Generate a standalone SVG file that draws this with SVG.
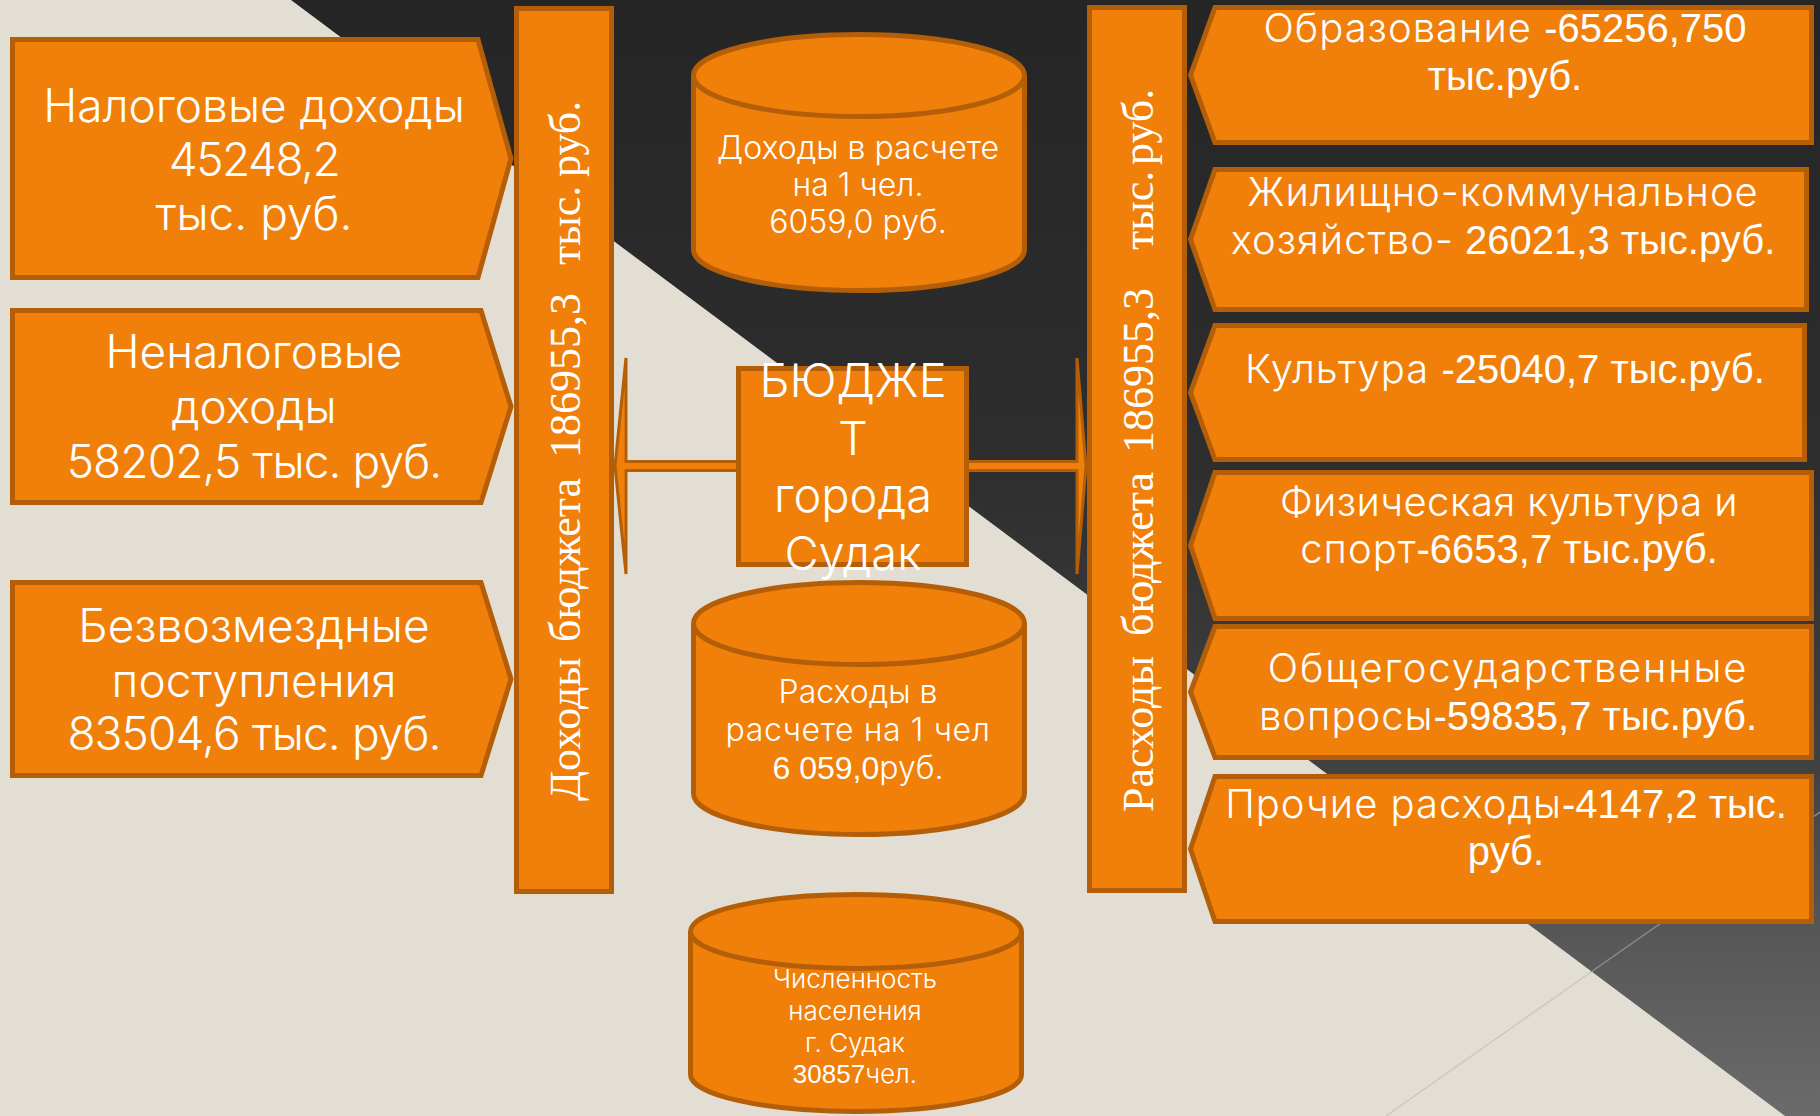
<svg xmlns="http://www.w3.org/2000/svg" width="1820" height="1116" viewBox="0 0 1820 1116">
  <defs>
    <linearGradient id="darkGrad" gradientUnits="userSpaceOnUse" x1="0" y1="0" x2="0" y2="1116">
      <stop offset="0" stop-color="#252525"/>
      <stop offset="0.42" stop-color="#2e2e2e"/>
      <stop offset="0.68" stop-color="#404040"/>
      <stop offset="0.83" stop-color="#565656"/>
      <stop offset="1" stop-color="#6b6b6b"/>
    </linearGradient>
  </defs>
  <style>
    .shape { fill: #F0800A; stroke: #B45F08; stroke-width: 5; stroke-linejoin: miter; }
    .conn { fill: #F0800A; stroke: #B45F08; stroke-width: 3; stroke-linejoin: miter; }
    .t { font-family: Inter, "Open Sans", "DejaVu Sans", sans-serif; font-weight: 300; fill: #ffffff; text-anchor: middle; }
    .r { letter-spacing: 1px; }
    .a { font-family: "Liberation Sans", Arial, sans-serif; font-weight: 400; letter-spacing: 0; }
    .v { font-family: "Liberation Serif", "Times New Roman", serif; font-size: 44px; fill: #ffffff; }
  </style>

  <g id="background">
    <rect x="0" y="0" width="1820" height="1116" fill="#E3DED3"/>
    <polygon points="291,0 1820,0 1820,1116 1785,1116" fill="url(#darkGrad)"/>
    <line x1="1386" y1="1116" x2="1591" y2="972" stroke="#CCC8BE" stroke-width="1.5"/>
    <line x1="1591" y1="972" x2="1820" y2="812" stroke="#8C8C8C" stroke-width="1.5"/>
  </g>

  <g id="connectors">
    <polygon class="conn" points="615,466 626,358 626,461.5 1077,461.5 1077,358 1086,466 1077,574 1077,470.5 626,470.5 626,574"/>
  </g>

  <g id="income-tax">
    <polygon class="shape" points="12.5,39.5 478,39.5 511,158.5 478,277.5 12.5,277.5"/>
    <text class="t" font-size="46" x="254" y="122">Налоговые доходы</text>
    <text class="t" font-size="46" x="254" y="176" letter-spacing="-1.5">45248,2</text>
    <text class="t" font-size="46" x="254" y="230">тыс. руб.</text>
  </g>

  <g id="income-nontax">
    <polygon class="shape" points="12.5,310.5 481,310.5 511,406.5 481,502.5 12.5,502.5"/>
    <text class="t" font-size="46" x="254" y="368">Неналоговые</text>
    <text class="t" font-size="46" x="254" y="423">доходы</text>
    <text class="t" font-size="46" x="254" y="478" letter-spacing="-0.9">58202,5 тыс. руб.</text>
  </g>

  <g id="income-free">
    <polygon class="shape" points="12.5,582.5 481,582.5 511,679 481,775.5 12.5,775.5"/>
    <text class="t" font-size="46" x="254" y="642">Безвозмездные</text>
    <text class="t" font-size="46" x="254" y="697">поступления</text>
    <text class="t" font-size="46" x="254" y="750" letter-spacing="-0.9">83504,6 тыс. руб.</text>
  </g>

  <g id="income-bar">
    <rect class="shape" x="516.5" y="8.5" width="95" height="883"/>
    <text class="v" transform="translate(580,801) rotate(-90)"><tspan x="0" y="0">Доходы</tspan><tspan x="159" y="0">бюджета</tspan><tspan x="343" y="0">186955,3</tspan><tspan x="536" y="0">тыс.</tspan><tspan x="624" y="0">руб.</tspan></text>
  </g>

  <g id="budget">
    <rect class="shape" x="738.5" y="368.5" width="228" height="196"/>
    <text class="t" font-size="47" x="853" y="397">БЮДЖЕ</text>
    <text class="t" font-size="47" x="853" y="455">Т</text>
    <text class="t" font-size="47" x="853" y="512">города</text>
    <text class="t" font-size="47" x="853" y="570">Судак</text>
  </g>

  <g id="income-per-capita">
    <path class="shape" d="M693.5,75.5 L693.5,249.5 A165.5,41 0 0 0 1024.5,249.5 L1024.5,75.5"/>
    <ellipse class="shape" cx="859" cy="75.5" rx="165.5" ry="41"/>
    <text class="t" font-size="32" x="858" y="159">Доходы в расчете</text>
    <text class="t" font-size="32" x="858" y="196">на 1 чел.</text>
    <text class="t" font-size="32" x="858" y="233">6059,0 руб.</text>
  </g>

  <g id="expense-per-capita">
    <path class="shape" d="M693.5,623.5 L693.5,793.5 A165.5,41 0 0 0 1024.5,793.5 L1024.5,623.5"/>
    <ellipse class="shape" cx="859" cy="623.5" rx="165.5" ry="41"/>
    <text class="t" font-size="32" x="858" y="703">Расходы в</text>
    <text class="t" font-size="32" x="858" y="741" letter-spacing="0.6">расчете на 1 чел</text>
    <text class="t" font-size="32" x="858" y="779"><tspan class="a">6 059,0</tspan>руб.</text>
  </g>

  <g id="population">
    <path class="shape" d="M690.5,931.5 L690.5,1074.5 A165.5,37 0 0 0 1021.5,1074.5 L1021.5,931.5"/>
    <ellipse class="shape" cx="856" cy="931.5" rx="165.5" ry="37"/>
    <text class="t" font-size="26" x="855" y="988">Численность</text>
    <text class="t" font-size="26" x="855" y="1020">населения</text>
    <text class="t" font-size="26" x="855" y="1052">г. Судак</text>
    <text class="t" font-size="26" x="855" y="1083"><tspan class="a">30857</tspan>чел.</text>
  </g>

  <g id="expense-bar">
    <rect class="shape" x="1089.5" y="7.5" width="95" height="883"/>
    <text class="v" transform="translate(1153,812) rotate(-90)"><tspan x="0" y="0">Расходы</tspan><tspan x="176" y="0">бюджета</tspan><tspan x="359" y="0">186955,3</tspan><tspan x="562" y="0">тыс.</tspan><tspan x="647" y="0">руб.</tspan></text>
  </g>

  <g id="exp-education">
    <polygon class="shape" points="1190.5,75 1215,7.5 1811.5,7.5 1811.5,142.5 1215,142.5"/>
    <text class="t r" font-size="40" x="1505" y="42">Образование <tspan class="a">-65256,750</tspan></text>
    <text class="t a" font-size="40" x="1505" y="90">тыс.руб.</text>
  </g>

  <g id="exp-housing">
    <polygon class="shape" points="1190.5,239.5 1215,169.5 1806.5,169.5 1806.5,309.5 1215,309.5"/>
    <text class="t r" font-size="40" x="1503" y="206">Жилищно-коммунальное</text>
    <text class="t r" font-size="40" x="1503" y="254">хозяйство-<tspan class="a"> 26021,3 тыс.руб.</tspan></text>
  </g>

  <g id="exp-culture">
    <polygon class="shape" points="1190.5,392.5 1215,325.5 1804.5,325.5 1804.5,459.5 1215,459.5"/>
    <text class="t r" font-size="40" x="1505" y="383">Культура <tspan class="a">-25040,7 тыс.руб.</tspan></text>
  </g>

  <g id="exp-sport">
    <polygon class="shape" points="1190.5,545.5 1215,472.5 1811.5,472.5 1811.5,618.5 1215,618.5"/>
    <text class="t" font-size="40" x="1509" y="516" letter-spacing="0.4">Физическая культура и</text>
    <text class="t r" font-size="40" x="1509" y="563">спорт<tspan class="a">-6653,7 тыс.руб.</tspan></text>
  </g>

  <g id="exp-general">
    <polygon class="shape" points="1190.5,692 1215,626.5 1811.5,626.5 1811.5,757.5 1215,757.5"/>
    <text class="t" font-size="40" x="1508" y="682" letter-spacing="1.8">Общегосударственные</text>
    <text class="t r" font-size="40" x="1508" y="730">вопросы<tspan class="a">-59835,7 тыс.руб.</tspan></text>
  </g>

  <g id="exp-other">
    <polygon class="shape" points="1190.5,849 1215,776.5 1811.5,776.5 1811.5,921.5 1215,921.5"/>
    <text class="t r" font-size="40" x="1506" y="818">Прочие расходы<tspan class="a">-4147,2 тыс.</tspan></text>
    <text class="t a" font-size="40" x="1506" y="865">руб.</text>
  </g>
</svg>
